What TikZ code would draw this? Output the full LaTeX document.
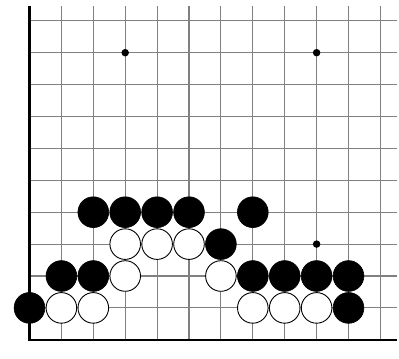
\documentclass[tikz,border=0pt]{standalone}
\begin{document}
\begin{tikzpicture}[x=31.9pt,y=31.9pt,
  gridline/.style={draw=black!50,line width=1.1pt},
  edgeline/.style={draw=black,line width=2.2pt},
  bstone/.style={circle,fill=black,draw=black,line width=0.6pt,minimum size=30.8pt,inner sep=0pt},
  wstone/.style={circle,fill=white,draw=black,line width=0.9pt,minimum size=30.6pt,inner sep=0pt},
  hoshi/.style={circle,fill=black,minimum size=7.5pt,inner sep=0pt}]
\useasboundingbox (-0.925,-0.571) rectangle (11.583,10.652);
% grid
\foreach \i in {1,...,11} \draw[gridline] (\i,0) -- (\i,10.46);
\foreach \j in {1,...,10} \draw[gridline] (0,\j) -- (11.51,\j);
\draw[edgeline] (0,10.46) -- (0,0) -- (11.51,0);
% star points
\node[hoshi] (h1) at (3,9) {};
\node[hoshi] (h2) at (9,9) {};
\node[hoshi] (h3) at (9,3) {};
% row 4
\node[bstone] (b24) at (2,4) {};
\node[bstone] (b34) at (3,4) {};
\node[bstone] (b44) at (4,4) {};
\node[bstone] (b54) at (5,4) {};
\node[bstone] (b74) at (7,4) {};
% row 3
\node[wstone] (w33) at (3,3) {};
\node[wstone] (w43) at (4,3) {};
\node[wstone] (w53) at (5,3) {};
\node[bstone] (b63) at (6,3) {};
% row 2
\node[bstone] (b12) at (1,2) {};
\node[bstone] (b22) at (2,2) {};
\node[wstone] (w32) at (3,2) {};
\node[wstone] (w62) at (6,2) {};
\node[bstone] (b72) at (7,2) {};
\node[bstone] (b82) at (8,2) {};
\node[bstone] (b92) at (9,2) {};
\node[bstone] (b102) at (10,2) {};
% row 1
\node[bstone] (b01) at (0,1) {};
\node[wstone] (w11) at (1,1) {};
\node[wstone] (w21) at (2,1) {};
\node[wstone] (w71) at (7,1) {};
\node[wstone] (w81) at (8,1) {};
\node[wstone] (w91) at (9,1) {};
\node[bstone] (b101) at (10,1) {};
\end{tikzpicture}
\end{document}
